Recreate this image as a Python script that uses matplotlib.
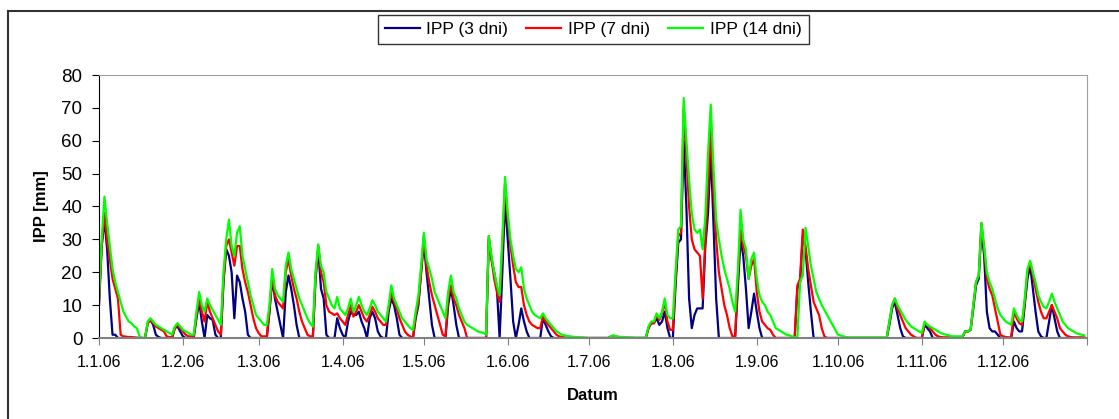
import numpy as np
import pandas as pd
import matplotlib
matplotlib.use("Agg")
import matplotlib.pyplot as plt
from matplotlib.lines import Line2D

plt.rcParams['font.family'] = ['Liberation Sans', 'DejaVu Sans']

# daily values 2006, one row per month
ipp14 = [
    12, 30, 43, 35, 28, 21, 17, 14, 11, 8, 6.5, 5, 4.5, 3.5, 3, 0.5, 0, 0, 5, 6, 5, 4, 3.5, 3, 2.5, 2, 1.5, 1, 3.5, 4.5, 3.5,
    2.5, 2, 1.5, 1, 1, 8, 14, 10, 8, 12, 10, 8.5, 7, 5.5, 4, 20, 30, 36, 28, 25, 32, 34, 25, 21, 17, 13, 10, 7,
    6, 5, 4, 4, 10, 21, 15, 13, 12, 11, 22, 26, 21, 18, 15, 12, 10, 8, 6, 4.5, 3.5, 20, 28.5, 22, 20, 14, 12, 10, 9, 12.5, 9,
    8, 7, 9, 12, 8, 10, 12.5, 10, 8, 7, 9, 11.5, 10, 8, 7, 6, 5, 10, 16, 12, 10, 8, 6, 5, 4, 3, 2.5, 8, 13, 22,
    32, 24, 21, 18, 14, 12, 10, 8, 6, 14, 19, 14, 12, 9, 7, 5, 4, 3.5, 3, 2.5, 2, 1.8, 1.5, 1, 31, 25, 20, 16, 13, 30, 49,
    38, 30, 25, 21, 20, 21.5, 15, 12, 10, 8, 7, 6.5, 6, 7.5, 6, 5, 4, 3, 2, 1.5, 1, 0.8, 0.6, 0.5, 0.4, 0.3, 0.3, 0.2, 0.2, 0.1,
    0, 0, 0, 0, 0, 0, 0, 0, 0.5, 0.8, 0.5, 0.4, 0.3, 0.3, 0.2, 0.2, 0.2, 0.1, 0.1, 0.1, 0.1, 0.1, 3.5, 5, 5, 7.5, 6, 8, 12, 7, 6,
    6, 20, 33, 34, 73, 60, 48, 38, 33, 32, 33, 27, 37, 56, 71, 52, 36, 30, 25, 21, 18, 15, 11, 8, 20, 39, 30, 27, 18, 24, 26,
    18, 13, 11, 10, 8, 7, 5, 3, 2.5, 2, 1.5, 1, 0.8, 0.5, 0.3, 0, 17, 19, 33.5, 28, 22, 18, 14, 12, 10, 8.5, 7, 5.5, 4, 2.5,
    1, 0.8, 0.5, 0.3, 0.2, 0.2, 0.2, 0.2, 0.2, 0.2, 0.2, 0.2, 0.2, 0.2, 0.2, 0.2, 0.2, 0.2, 0.2, 5, 10, 12, 10, 8.5, 7, 5.5, 4.5, 3.5, 3, 2.5, 2,
    1.5, 5, 4, 3.5, 3, 2.5, 2, 1.5, 1.2, 1, 0.8, 0.5, 0.5, 0.5, 0.5, 0.5, 2, 2, 2.5, 10, 17, 19, 35, 28, 20, 17, 15, 12, 9, 7,
    6, 5, 4.5, 4, 9, 7, 5.5, 5, 12, 21, 23.5, 20, 17, 13, 11, 9.5, 9, 11, 13.5, 11, 9, 7, 5, 4, 3, 2.5, 2, 1.5, 1.2, 1, 0.8,
]
ipp7 = [
    11, 28, 38, 30, 24, 18, 15, 12, 1, 0.5, 0.4, 0.3, 0.3, 0.2, 0.1, 0, 0, 0, 4.5, 5.5, 4.5, 3.5, 3, 2.5, 2, 0.5, 0.3, 0.2, 3, 4, 3,
    2, 1, 0.5, 0.5, 0.5, 7, 12, 8, 5, 11, 8, 6, 4, 2, 1, 18, 28, 30, 26, 22, 28, 28, 21, 17, 14, 10, 6, 3,
    1.5, 0.5, 0.5, 0.5, 9, 19, 13, 11, 10, 9, 20, 24, 19, 15, 12, 8, 5, 3, 1, 0.5, 0.5, 19, 28, 20, 17, 10, 8, 7.5, 7, 7.5, 6,
    5, 4, 7, 10, 6.5, 8, 10, 8, 6, 5, 7, 9.5, 8, 6, 5, 4, 4, 9, 14, 11, 9, 6, 4, 2, 1, 0.5, 0, 7, 11, 20,
    31, 22, 17, 13, 10, 7, 4, 1, 0.5, 12, 16, 12, 10, 7, 5, 3, 0, 0, 0, 0, 0, 0, 0, 0, 31, 24, 18, 14, 11, 28, 47,
    36, 28, 22, 17, 15.5, 15.5, 10, 7, 5, 4, 3.5, 3, 3, 6.5, 5, 4, 3, 2, 1, 0.5, 0.3, 0.2, 0, 0, 0, 0, 0, 0, 0, 0,
    0, 0, 0, 0, 0, 0, 0, 0, 0.4, 0.7, 0.4, 0.3, 0.2, 0.1, 0.1, 0, 0, 0, 0, 0, 0, 0, 3, 4.5, 4.5, 7, 5.5, 7.5, 11, 5, 2.5,
    2.5, 18, 31, 32, 70, 55, 40, 30, 27, 26, 25, 12, 30, 45, 64, 45, 30, 20, 15, 10, 7, 3, 0.5, 0.5, 18, 33, 28, 25, 18, 22, 24,
    14, 8, 5, 4, 3, 2.5, 1, 0, 0, 0, 0, 0, 0, 0, 0, 16, 18, 33, 28, 21, 16, 11, 9, 7, 3, 0.5, 0, 0, 0, 0,
    0, 0, 0, 0, 0, 0, 0, 0, 0, 0, 0, 0, 0, 0, 0, 0, 0, 0, 0, 5, 10, 12, 9, 7, 5, 3, 2, 1, 0.5, 0, 0,
    0, 4.5, 4, 3, 2, 1, 0.5, 0.3, 0.2, 0.2, 0.2, 0.2, 0.3, 0.3, 0.3, 0.3, 2, 2, 2.5, 10, 17, 19, 35, 27, 18, 15, 13, 9, 5, 1,
    0.5, 0.3, 0.2, 0.2, 8, 6, 4.5, 4, 11, 20, 23, 19, 15, 11, 8, 6, 6, 8, 10, 8, 6, 3, 2, 1, 0.5, 0.3, 0.2, 0.2, 0.2, 0.2, 0.2,
]
ipp3 = [
    10, 28, 36, 27, 12, 1, 1, 0, 0, 0, 0, 0, 0, 0, 0, 0, 0, 0, 4.5, 5.5, 4, 1, 0.3, 0, 0, 0, 0, 0, 3, 3.5, 2,
    0.5, 0, 0, 0, 0, 6, 11, 5, 0, 7, 6, 5.5, 1, 0, 0, 17, 27, 25, 20, 6, 19, 17, 12, 8, 1, 0, 0, 0,
    0, 0, 0, 0, 8, 18, 12, 8, 4, 0, 14, 19, 15, 10, 4, 0, 0, 0, 0, 0, 0, 18, 27, 15, 12, 1, 0, 0, 0, 6, 3,
    1, 0, 5, 8, 7, 7, 8, 5, 3, 0, 6, 8, 6, 2, 0.5, 0, 0, 8, 12, 10, 6, 1, 0, 0, 0, 0, 0, 6, 10, 20,
    29, 20, 12, 4, 0, 0, 0, 0, 0, 10, 15, 10, 4, 0, 0, 0, 0, 0, 0, 0, 0, 0, 0, 0, 30, 24, 20, 15, 0, 20, 42,
    30, 18, 5, 0, 4, 9, 5, 2, 0, 0, 0, 0, 0, 6, 4, 2, 0.5, 0, 0, 0, 0, 0, 0, 0, 0, 0, 0, 0, 0, 0,
    0, 0, 0, 0, 0, 0, 0, 0, 0.3, 0.6, 0.3, 0, 0, 0, 0, 0, 0, 0, 0, 0, 0, 0, 3, 4.5, 4.5, 6, 4, 5, 8, 3, 0,
    0, 16, 29, 30, 60, 40, 12, 3, 7, 9, 9, 9, 28, 38, 57, 35, 12, 0, 0, 0, 0, 0, 0, 0, 15, 30, 25, 15, 3, 8, 13.5,
    8, 3, 0, 0, 0, 0, 0, 0, 0, 0, 0, 0, 0, 0, 0, 15, 17, 31, 27, 17, 8, 0, 0, 0, 0, 0, 0, 0, 0, 0,
    0, 0, 0, 0, 0, 0, 0, 0, 0, 0, 0, 0, 0, 0, 0, 0, 0, 0, 0, 4, 9, 11, 7, 3, 0.5, 0, 0, 0, 0, 0, 0,
    0, 4, 3, 2, 0, 0, 0, 0, 0, 0, 0, 0, 0, 0, 0, 0.3, 2, 2, 2.5, 9, 16, 18, 33, 25, 8, 3, 2, 2, 1, 0,
    0, 0, 0, 0, 5, 3, 2, 2, 10, 18, 22, 15, 8, 2, 0.5, 0, 0, 5, 10, 6, 2, 0, 0, 0, 0, 0, 0, 0, 0, 0, 0,
]
labels = ['IPP (3 dni)', 'IPP (7 dni)', 'IPP (14 dni)']
colors = ['#000080', '#FF0000', '#00FF00']

days = pd.date_range('2006-01-01', periods=365, freq='D')

fig = plt.figure(figsize=(11.19, 4.19), dpi=100)
ax = fig.add_axes([99 / 1119, 1 - 338 / 419, 988 / 1119, 263 / 419])

for vals, lab, col in zip([ipp3, ipp7, ipp14], labels, colors):
    ax.plot(days, vals, color=col, lw=1.6, label=lab)

ax.set_xlim(pd.Timestamp('2006-01-01'), pd.Timestamp('2007-01-01'))
ax.set_ylim(0, 80)
ax.set_yticks(range(0, 81, 10))
ticks = pd.date_range('2006-01-01', '2007-01-01', freq='MS')
ax.set_xticks(ticks)
ax.set_xticklabels([f'{t.day}.{t.month}.06' for t in ticks[:-1]] + [''])
ax.tick_params(axis='x', labelsize=11.5, direction='out', length=5, color='#808080', pad=7)
ax.tick_params(axis='y', labelsize=13.5, direction='out', length=5, pad=7)

ax.spines['left'].set_color('black')
ax.spines['bottom'].set_color('#808080')
ax.spines['bottom'].set_linewidth(1.5)
for s in ['top', 'right']:
    ax.spines[s].set_color('#a0a0a0')

ax.set_xlabel('Datum', fontsize=12, fontweight='bold', labelpad=13)
ax.set_ylabel('IPP [mm]', fontsize=12, fontweight='bold', labelpad=9)

leg = fig.legend(loc='center', bbox_to_anchor=(593 / 1119, 1 - 29.5 / 419), ncol=3,
                 frameon=True, fancybox=False, edgecolor='black', fontsize=12.6,
                 handlelength=2.0, handletextpad=0.4, columnspacing=1.0, borderpad=0.4)
leg.get_frame().set_linewidth(1.0)

# chart area border (left and top visible)
fig.add_artist(Line2D([8 / 1119, 8 / 1119], [0, 1 - 11 / 419], transform=fig.transFigure, color='#333333', lw=1.5))
fig.add_artist(Line2D([8 / 1119, 1], [1 - 11 / 419, 1 - 11 / 419], transform=fig.transFigure, color='#333333', lw=1.5))

fig.savefig('out.png', dpi=100)
